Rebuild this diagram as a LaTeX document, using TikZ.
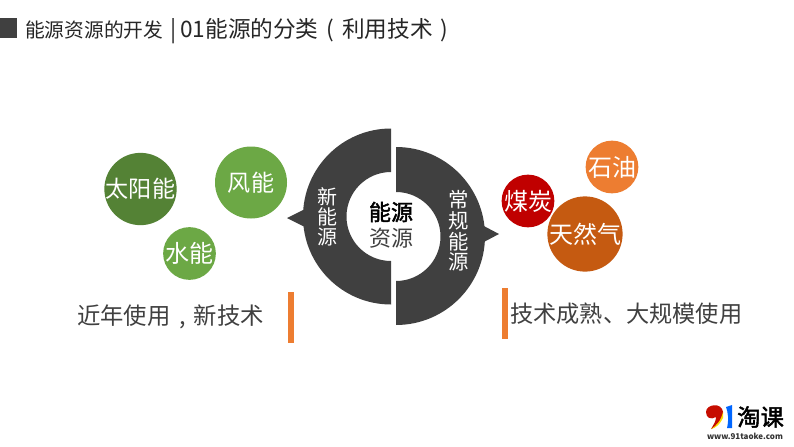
\documentclass[tikz,border=0pt]{standalone}
\usepackage{fontspec}
\setmainfont{Noto Sans CJK SC}
\newfontfamily\cjkb{Noto Sans CJK SC}[FakeBold=2]
\newcommand{\fs}[1]{\fontsize{#1}{#1}\selectfont}
\definecolor{ringc}{HTML}{404040}
\definecolor{greenc}{HTML}{6CA845}
\definecolor{sunc}{HTML}{548235}
\definecolor{orangec}{HTML}{ED7D31}
\definecolor{redc}{HTML}{C00000}
\definecolor{darkor}{HTML}{C55A11}
\tikzset{
  ball/.style={circle,inner sep=0pt,minimum size=#1,text=white},
  ringtxt/.style={text=white,align=center,inner sep=0pt},
  bar/.style={fill=orangec,draw=none},
  note/.style={anchor=west,inner sep=0pt,text=ringc},
}
\begin{document}
\begin{tikzpicture}[x=0.75pt,y=-0.75pt]
\useasboundingbox (0,0) rectangle (794,447);
\fill[white] (0,0) rectangle (794,447);
% title
\fill[ringc] (0,18) rectangle (17,38);
\node[anchor=west,inner sep=0pt,text=black!85] (title) at (25,31.5) {\fs{14.8}能源资源的开发\hspace{5pt}\fs{17}|\hspace{3pt}01能源的分类\hspace{6pt}(\hspace{6pt}利用技术\hspace{6pt})};
% rings
\fill[ringc] (391,128.5) arc[start angle=-90,end angle=-270,radius=88] -- (391,261) arc[start angle=90,end angle=270,radius=44.5] -- cycle;
\fill[ringc] (287,218) -- (306,208.5) -- (306,227.5) -- cycle;
\fill[ringc] (396,147) arc[start angle=-90,end angle=90,radius=89] -- (396,281) arc[start angle=90,end angle=-90,radius=44.5] -- cycle;
\fill[ringc] (499,234) -- (481,224.5) -- (481,243.5) -- cycle;
\node[ringtxt,font=\fs{15}] (newe) at (327,217) {新\\[0.2pt]能\\[0.2pt]源};
\node[ringtxt,font=\fs{15.3}] (olde) at (459,231) {常\\[0.2pt]规\\[0.2pt]能\\[0.2pt]源};
\node[inner sep=0pt,text=black] (c1) at (391,212) {\cjkb\fs{16.5}能源};
\node[inner sep=0pt,text=ringc] (c2) at (391,238.5) {\fs{16.5}资源};
% circles
\node[ball=54pt,fill=sunc] (sun) at (140.5,189) {\fs{17.3}太阳能};
\node[ball=54pt,fill=greenc] (wind) at (251,182.5) {\fs{17.3}风能};
\node[ball=38.5pt,fill=greenc] (water) at (189.5,253.5) {\fs{18}水能};
\node[ball=37.5pt,fill=redc] (coal) at (528,201) {\fs{18}煤炭};
\node[ball=37.5pt,fill=orangec] (oil) at (612,167) {\fs{18}石油};
\node[ball=54pt,fill=darkor] (gas) at (585,234) {\fs{18}天然气};
% bars
\fill[bar] (288,292) rectangle (294,343);
\fill[bar] (502,288) rectangle (508,339);
\node[note] (n1) at (77,317) {\fs{17.5}近年使用\makebox[17.5pt][c]{,}新技术};
\node[note] (n2) at (510,314) {\fs{17.4}技术成熟、大规模使用};
% logo
\fill[redc!90!orange] (706,412) .. controls (706,404) and (722,402) .. (723,412) .. controls (723,420) and (718,426) .. (711,429) .. controls (714,424) and (716,421) .. (716,417) .. controls (711,420) and (706,418) .. (706,412) -- cycle;
\fill[yellow!80!orange] (711,429) .. controls (716,426) and (721,421) .. (723,412) -- (723,418) .. controls (720,424) and (716,428) .. (711,429) -- cycle;
\fill[blue!60!cyan] (726,407) -- (732,405) -- (732,428) -- (727,428) .. controls (729,420) and (728,412) .. (726,407) -- cycle;
\node[inner sep=0pt,text=black] (logo) at (760.5,417) {\cjkb\fs{17.5}淘课};
\node[inner sep=0pt,text=black!80] (url) at (745,436) {\bfseries\fs{6}www.91taoke.com};
\end{tikzpicture}
\end{document}
